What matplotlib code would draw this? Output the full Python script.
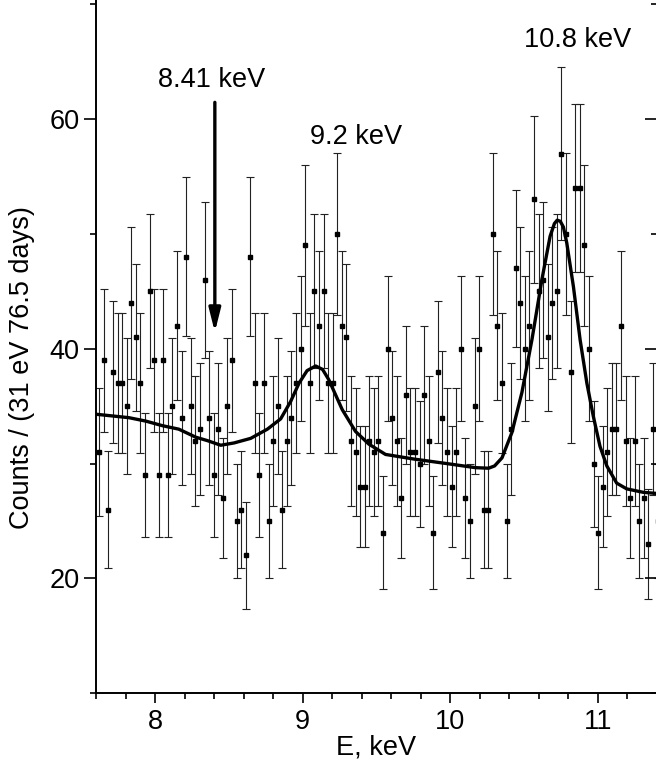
import numpy as np
import matplotlib.pyplot as plt
from matplotlib.ticker import MultipleLocator

# spectrum: 31 eV bins starting at 7.622 keV
e_start = 7.622
bin_width = 0.031
counts = [
    31, 39, 26, 38, 37, 37, 35, 44, 41, 37, 29, 45, 39, 29, 39, 29, 35, 42, 34, 48, 35, 32,
    33, 46, 34, 29, 33, 27, 35, 39, 25, 26, 22, 48, 37, 29, 37, 25, 32, 35, 26, 32, 34,
    37, 40, 49, 37, 45, 42, 45, 37, 37, 50, 42, 41, 32, 31, 28, 28, 32, 31, 32, 24,
    40, 34, 32, 27, 36, 31, 31, 30, 36, 32, 24, 38, 34, 31, 28, 31, 40, 27, 25, 35, 40,
    26, 26, 50, 42, 37, 25, 33, 47, 44, 40, 42, 53, 45, 46, 41, 44, 45, 57, 50, 38, 54,
    54, 49, 40, 30, 24, 28, 31, 33, 33, 42, 32, 27, 32, 25, 27, 23, 33, 25,
]

# fit curve
fit_e = [7.600, 7.823, 7.938, 8.051, 8.161, 8.276, 8.355, 8.445, 8.535, 8.648,
         8.761, 8.851, 8.918, 8.975, 9.030, 9.088, 9.135, 9.177, 9.268, 9.358,
         9.448, 9.561, 9.752, 9.978, 10.169, 10.259, 10.300, 10.350, 10.417, 10.485,
         10.553, 10.620, 10.676, 10.705, 10.724, 10.745, 10.766, 10.789, 10.834, 10.879,
         10.925, 10.969, 11.014, 11.060, 11.127, 11.195, 11.307, 11.400]
fit_y = [34.3, 34.0, 33.7, 33.3, 33.0, 32.3, 32.0, 31.6, 31.8, 32.2,
         33.0, 33.9, 35.4, 37.0, 38.1, 38.5, 38.2, 37.3, 34.7, 32.8,
         31.7, 30.8, 30.4, 30.0, 29.65, 29.6, 29.8, 30.5, 32.7, 36.2,
         40.8, 46.0, 49.8, 50.9, 51.2, 51.1, 50.6, 49.2, 45.4, 40.8,
         37.0, 34.1, 31.5, 29.8, 28.3, 27.8, 27.5, 27.4]

energy = e_start + bin_width * np.arange(len(counts))
counts = np.array(counts)
errors = np.sqrt(counts)

plt.rcParams['font.family'] = ['Liberation Sans', 'DejaVu Sans']
fs = 19.5

fig = plt.figure(figsize=(6.56, 7.69), dpi=100)
ax = fig.add_axes([96 / 656, 75.7 / 769, 561 / 656, 693.3 / 769])

ax.errorbar(energy, counts, yerr=errors, fmt='s', color='black', ms=3.4,
            ecolor='#222222', elinewidth=0.8, capsize=3, capthick=0.8)
ax.plot(fit_e, fit_y, color='black', lw=2.4)

# line labels
ax.annotate('', xy=(8.405, 41.2), xytext=(8.405, 61.7),
            arrowprops=dict(arrowstyle='-|>,head_width=0.35,head_length=1.4',
                            color='black', lw=2.4))
ax.text(8.384, 63.4, '8.41 keV', ha='center', va='center', fontsize=fs)
ax.text(9.36, 58.4, '9.2 keV', ha='center', va='center', fontsize=fs)
ax.text(10.86, 66.9, '10.8 keV', ha='center', va='center', fontsize=fs)

ax.set_xlim(7.6, 11.4)
ax.set_ylim(10, 70.37)
ax.xaxis.set_major_locator(MultipleLocator(1))
ax.xaxis.set_minor_locator(MultipleLocator(0.2))
ax.yaxis.set_major_locator(MultipleLocator(20))
ax.yaxis.set_minor_locator(MultipleLocator(10))

ax.spines['top'].set_visible(False)
ax.spines['right'].set_visible(False)
for s in ['left', 'bottom']:
    ax.spines[s].set_linewidth(1.4)

ax.tick_params(axis='y', which='major', direction='out', length=9, width=1.2,
               labelsize=fs, pad=3)
ax.tick_params(axis='y', which='minor', direction='out', length=4.5, width=1.2)
ax.tick_params(axis='x', which='major', direction='out', length=7, width=1.2,
               labelsize=fs, pad=4)
ax.tick_params(axis='x', which='minor', direction='out', length=4.5, width=1.2)

# inward ticks on the right side
ax2 = ax.twinx()
ax2.set_ylim(ax.get_ylim())
ax2.yaxis.set_major_locator(MultipleLocator(20))
ax2.yaxis.set_minor_locator(MultipleLocator(10))
ax2.tick_params(axis='y', which='major', direction='in', length=9, width=1.2, labelright=False)
ax2.tick_params(axis='y', which='minor', direction='in', length=4.5, width=1.2)
for s in ['top', 'left', 'bottom']:
    ax2.spines[s].set_visible(False)

ax.set_xlabel('E, keV', fontsize=fs, labelpad=0)
ax.set_ylabel('Counts / (31 eV 76.5 days)', fontsize=fs)
ax.yaxis.set_label_coords(-0.108, 0.47)

fig.savefig('out.png', dpi=100)
